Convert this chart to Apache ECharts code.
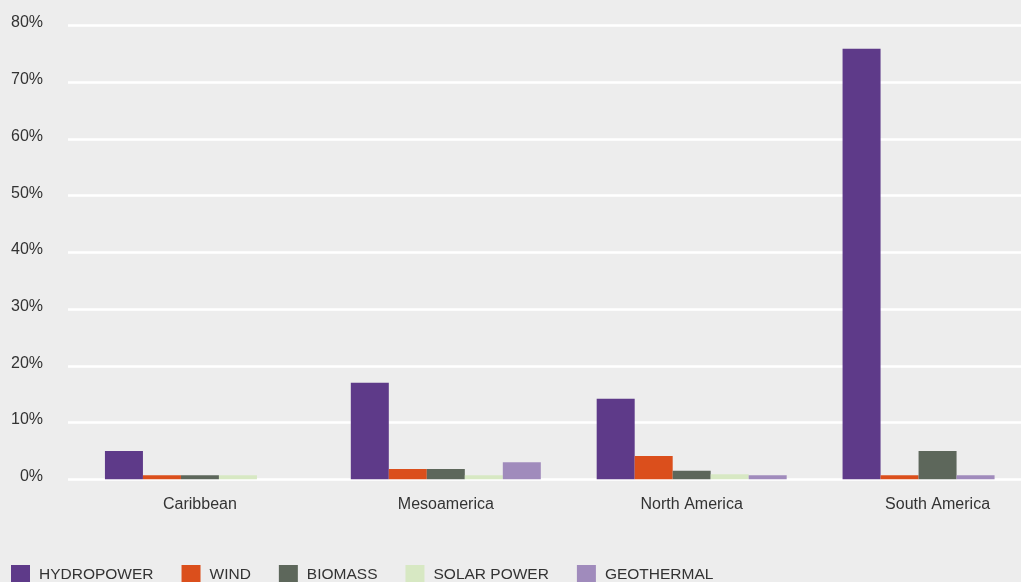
<!DOCTYPE html>
<html>
<head>
<meta charset="utf-8">
<script src="https://cdn.jsdelivr.net/npm/echarts@6/dist/echarts.min.js"></script>
<style>
  html, body { margin: 0; padding: 0; background: #ededed; overflow: hidden; }
  #chart { width: 1062px; height: 582px; }
</style>
</head>
<body>
<div id="chart"></div>
<script>
const categories = ['Caribbean', 'Mesoamerica', 'North America', 'South America'];
const seriesNames = ['HYDROPOWER', 'WIND', 'BIOMASS', 'SOLAR POWER', 'GEOTHERMAL'];
const hydropower = [5.0, 17.0, 14.2, 75.9];
const wind = [0.7, 1.8, 4.1, 0.7];
const biomass = [0.7, 1.8, 1.5, 5.0];
const solarPower = [0.7, 0.7, 0.9, 0.7];
const geothermal = [0, 3.0, 0.7, 0];
const yTicks = [0, 10, 20, 30, 40, 50, 60, 70, 80];

const colors = ['#5e3a89', '#db4f1c', '#5d675b', '#d7e8c3', '#a08bbc'];
const values = [hydropower, wind, biomass, solarPower, geothermal];

const chart = echarts.init(document.getElementById('chart'), null, { renderer: 'canvas' });
const font = '"Liberation Sans", Arial, Helvetica, sans-serif';

const series = values.map((arr, i) => ({
  name: seriesNames[i],
  type: 'bar',
  xAxisIndex: 0,
  yAxisIndex: 0,
  barWidth: 38,
  barGap: '0%',
  itemStyle: { color: colors[i] },
  data: arr.map((v, j) => {
    // In the reference the South America bar in the solar slot is drawn in the geothermal tone
    if (i === 3 && j === 3) return { value: v, itemStyle: { color: colors[4] } };
    return v;
  })
}));

chart.setOption({
  backgroundColor: '#ededed',
  animation: false,
  textStyle: { fontFamily: font, color: '#333' },
  legend: {
    left: 11,
    top: 565,
    padding: 0,
    icon: 'rect',
    itemWidth: 19,
    itemHeight: 19,
    itemGap: 28,
    textStyle: { fontFamily: font, fontSize: 15.5, color: '#333', padding: [0, 0, 0, 4] },
    data: seriesNames
  },
  grid: [
    { left: 77, right: 1.5, top: 25.5, bottom: 102.7, containLabel: false },
    { left: 68, right: 0, top: 25.5, bottom: 102.7, containLabel: false }
  ],
  xAxis: [
    {
      type: 'category', gridIndex: 0, data: categories,
      axisLine: { show: false }, axisTick: { show: false },
      axisLabel: { fontFamily: font, fontSize: 16, color: '#333', margin: 17 }
    },
    {
      type: 'value', gridIndex: 1, show: false, min: 0, max: 1
    }
  ],
  yAxis: [
    {
      type: 'value', gridIndex: 0, min: 0, max: 80, interval: 10,
      axisLine: { show: false }, axisTick: { show: false },
      axisLabel: { show: false }, splitLine: { show: false }
    },
    {
      type: 'value', gridIndex: 1, min: yTicks[0], max: yTicks[yTicks.length - 1], interval: 10,
      axisLine: { show: false }, axisTick: { show: false },
      axisLabel: {
        fontFamily: font, fontSize: 16, color: '#333', margin: 25,
        verticalAlign: 'bottom', lineHeight: 5,
        formatter: v => v + '%'
      },
      splitLine: { show: true, lineStyle: { color: '#ffffff', width: 2.5 } }
    }
  ],
  series: series
});
</script>
</body>
</html>
